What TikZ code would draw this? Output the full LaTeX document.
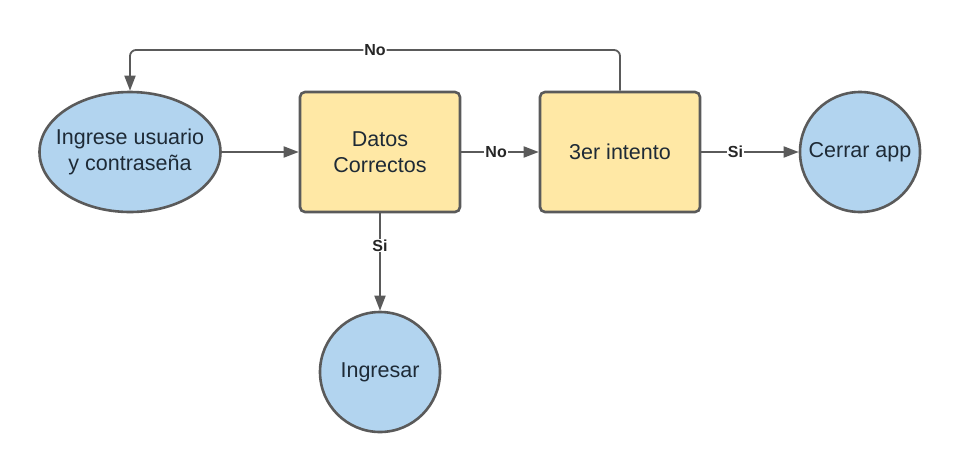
\documentclass[tikz,border=0pt]{standalone}
\usepackage{fontspec}
\setmainfont{Liberation Sans}
\usetikzlibrary{arrows.meta,shapes.geometric}
\definecolor{bluef}{HTML}{B2D4EF}
\definecolor{yellowf}{HTML}{FFE8A5}
\definecolor{edge}{HTML}{5A5A5A}
\definecolor{txt}{HTML}{1E2A36}
\tikzset{
  base/.style={draw=edge, line width=2.6pt, text=txt, font=\fontsize{21.5}{26}\selectfont, align=center, inner sep=0pt},
  oval/.style={base, ellipse, fill=bluef, inner xsep=-12pt, minimum width=181pt, minimum height=120pt},
  circ/.style={base, circle, fill=bluef, minimum size=120pt},
  proc/.style={base, rectangle, rounded corners=5pt, fill=yellowf, minimum width=160pt, minimum height=120pt},
  conn/.style={draw=edge, line width=1.8pt, -{Triangle[length=15pt,width=11pt]}},
  lbl/.style={fill=white, text=black!85, font=\bfseries\fontsize{16}{18}\selectfont, inner sep=1pt}
}
\begin{document}
\begin{tikzpicture}[x=1pt,y=1pt]
\useasboundingbox (0,0) rectangle (960,-472);
\node[oval] (usr) at (130,-152) {Ingrese usuario\\y contraseña};
\node[proc] (datos) at (380,-152) {Datos\\Correctos};
\node[proc] (tercer) at (620,-152) {3er intento};
\node[circ] (cerrar) at (860,-152) {Cerrar app};
\node[circ] (ingresar) at (380,-372) {Ingresar};
\coordinate (tr) at (620,-50);
\coordinate (tl) at (130,-50);
\draw[conn] (usr) -- (datos);
\draw[conn] (datos) -- node[lbl, pos=0.45] {No} (tercer);
\draw[conn] (tercer) -- node[lbl, pos=0.35] {Si} (cerrar);
\draw[conn] (datos) -- node[lbl, pos=0.33] {Si} (ingresar);
\draw[conn, rounded corners=6pt] (tercer.north) -- (tr) -- node[lbl, pos=0.5] {No} (tl) -- (usr.north);
\end{tikzpicture}
\end{document}
